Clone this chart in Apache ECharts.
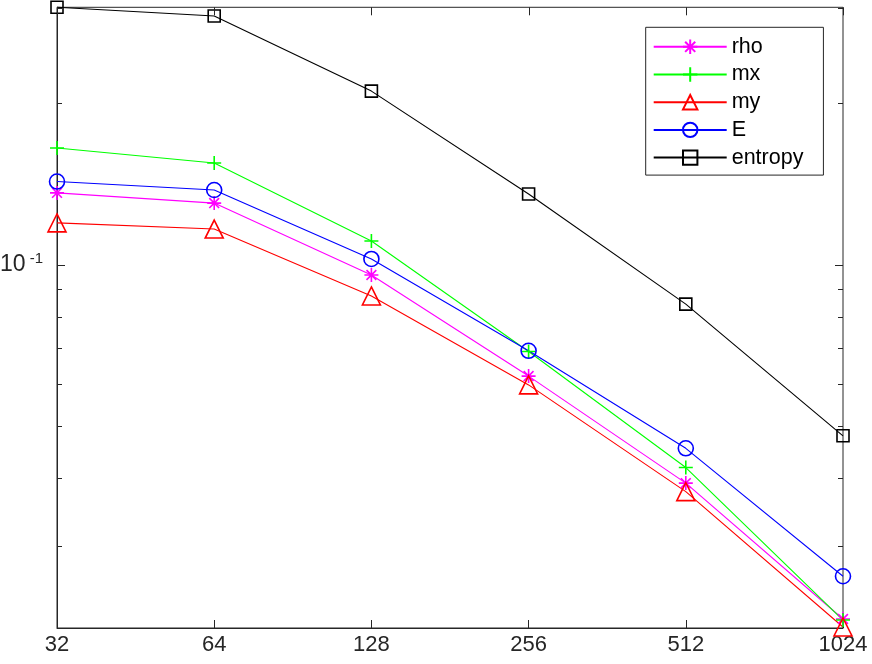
<!DOCTYPE html>
<html>
<head>
<meta charset="utf-8">
<script src="https://cdn.jsdelivr.net/npm/echarts@6/dist/echarts.min.js"></script>
<style>
  html, body { margin: 0; padding: 0; background: #fff; }
  #main { width: 872px; height: 664px; }
</style>
</head>
<body>
<div id="main"></div>
<script>
// grid sizes (N)
var gridN = [32, 64, 128, 256, 512, 1024];

// errors per variable
var rho     = [0.1359, 0.1301, 0.0956, 0.0620, 0.0392, 0.0219];
var mx      = [0.1647, 0.1545, 0.1106, 0.0689, 0.0419, 0.0218];
var my      = [0.1195, 0.1164, 0.0874, 0.0597, 0.0378, 0.02116];
var E       = [0.1427, 0.1376, 0.1024, 0.0691, 0.0455, 0.0263];
var entropy = [0.3010, 0.2900, 0.2102, 0.1353, 0.0844, 0.0480];

// y axis limits (axis tight) and log ticks
var yMin = 0.02107, yMax = 0.301;
var yMajorTicks = [0.1];
var yMinorTicks = [0.03, 0.04, 0.05, 0.06, 0.07, 0.08, 0.09, 0.2, 0.3];

var axisColor = '#262626';
var fontFamily = '"Liberation Sans", Arial, Helvetica, sans-serif';

var asterisk = 'path://M50,0L50,100M0,50L100,50M15,15L85,85M85,15L15,85';
var plus = 'path://M50,0L50,100M0,50L100,50';

function pairs(vals) {
    return gridN.map(function (n, i) { return [n, vals[i]]; });
}

function makeSeries(name, vals, color, symbol, size) {
    return {
        name: name,
        type: 'line',
        data: pairs(vals),
        symbol: symbol,
        symbolSize: size,
        showAllSymbol: true,
        clip: false,
        lineStyle: { color: color, width: 1.1 },
        itemStyle: { color: 'rgba(0,0,0,0)', borderColor: color, borderWidth: 1.6 },
        emphasis: { disabled: true }
    };
}

var myChart = echarts.init(document.getElementById('main'));

var option = {
    animation: false,
    grid: {
        left: 57, right: 29, top: 7.3, bottom: 36,
        outerBoundsMode: 'none',
        containLabel: false,
        show: true, borderColor: axisColor, borderWidth: 1,
        backgroundColor: '#fff'
    },
    legend: {
        orient: 'vertical',
        left: 645.7,
        top: 27.3,
        padding: [8.5, 20, 6.5, 7],
        itemWidth: 73,
        itemHeight: 18,
        itemGap: 5.7,
        itemTextGap: 6,
        borderColor: axisColor,
        borderWidth: 1,
        backgroundColor: '#fff',
        textStyle: { fontFamily: fontFamily, fontSize: 21.5, color: '#000', lineHeight: 21 },
        data: ['rho', 'mx', 'my', 'E', 'entropy']
    },
    xAxis: {
        type: 'log',
        logBase: 2,
        min: 32,
        max: 1024,
        axisLine: { lineStyle: { color: axisColor, width: 1 } },
        axisTick: { inside: true, length: 8, lineStyle: { color: axisColor } },
        splitLine: { show: false },
        axisLabel: {
            margin: 6,
            fontFamily: fontFamily,
            fontSize: 22,
            color: axisColor,
            formatter: function (v) { return String(Math.round(v)); }
        }
    },
    yAxis: {
        type: 'log',
        logBase: 10,
        min: yMin,
        max: yMax,
        axisLine: { show: true, lineStyle: { color: axisColor, width: 1 } },
        axisTick: { show: false },
        splitLine: { show: false },
        axisLabel: {
            margin: 14,
            fontFamily: fontFamily,
            fontSize: 22,
            color: axisColor,
            formatter: function (v) {
                return Math.abs(v - 0.1) < 1e-6 ? '{b|10}{s| -1}' : '';
            },
            rich: {
                b: { fontFamily: fontFamily, fontSize: 23, color: axisColor, lineHeight: 26 },
                s: { fontFamily: fontFamily, fontSize: 15, color: axisColor, lineHeight: 14, verticalAlign: 'top' }
            }
        }
    },
    series: [
        makeSeries('rho', rho, '#ff00ff', asterisk, 14),
        makeSeries('mx', mx, '#00ff00', plus, 14),
        makeSeries('my', my, '#ff0000', 'triangle', 18),
        makeSeries('E', E, '#0000ff', 'circle', 15),
        makeSeries('entropy', entropy, '#000000', 'rect', 12)
    ]
};

myChart.setOption(option);

// log-axis ticks in MATLAB style (inward, on both sides of the box)
var gLeft = myChart.convertToPixel({ xAxisIndex: 0 }, 32);
var gRight = myChart.convertToPixel({ xAxisIndex: 0 }, 1024);
var gTop = myChart.convertToPixel({ yAxisIndex: 0 }, yMax);
var ticks = [];
function tickLine(x1, y1, x2, y2) {
    ticks.push({
        type: 'line',
        silent: true,
        z: 100,
        shape: { x1: x1, y1: y1, x2: x2, y2: y2 },
        style: { stroke: axisColor, lineWidth: 1 }
    });
}
yMajorTicks.concat(yMinorTicks).forEach(function (v) {
    if (v < yMin || v > yMax) return;
    var len = yMajorTicks.indexOf(v) >= 0 ? 8 : 5;
    var y = Math.round(myChart.convertToPixel({ yAxisIndex: 0 }, v)) + 0.5;
    tickLine(gLeft, y, gLeft + len, y);
    tickLine(gRight - len, y, gRight, y);
});
gridN.forEach(function (n) {
    var x = Math.round(myChart.convertToPixel({ xAxisIndex: 0 }, n)) + 0.5;
    tickLine(x, gTop, x, gTop + 8);
});
myChart.setOption({ graphic: ticks });
</script>
</body>
</html>
